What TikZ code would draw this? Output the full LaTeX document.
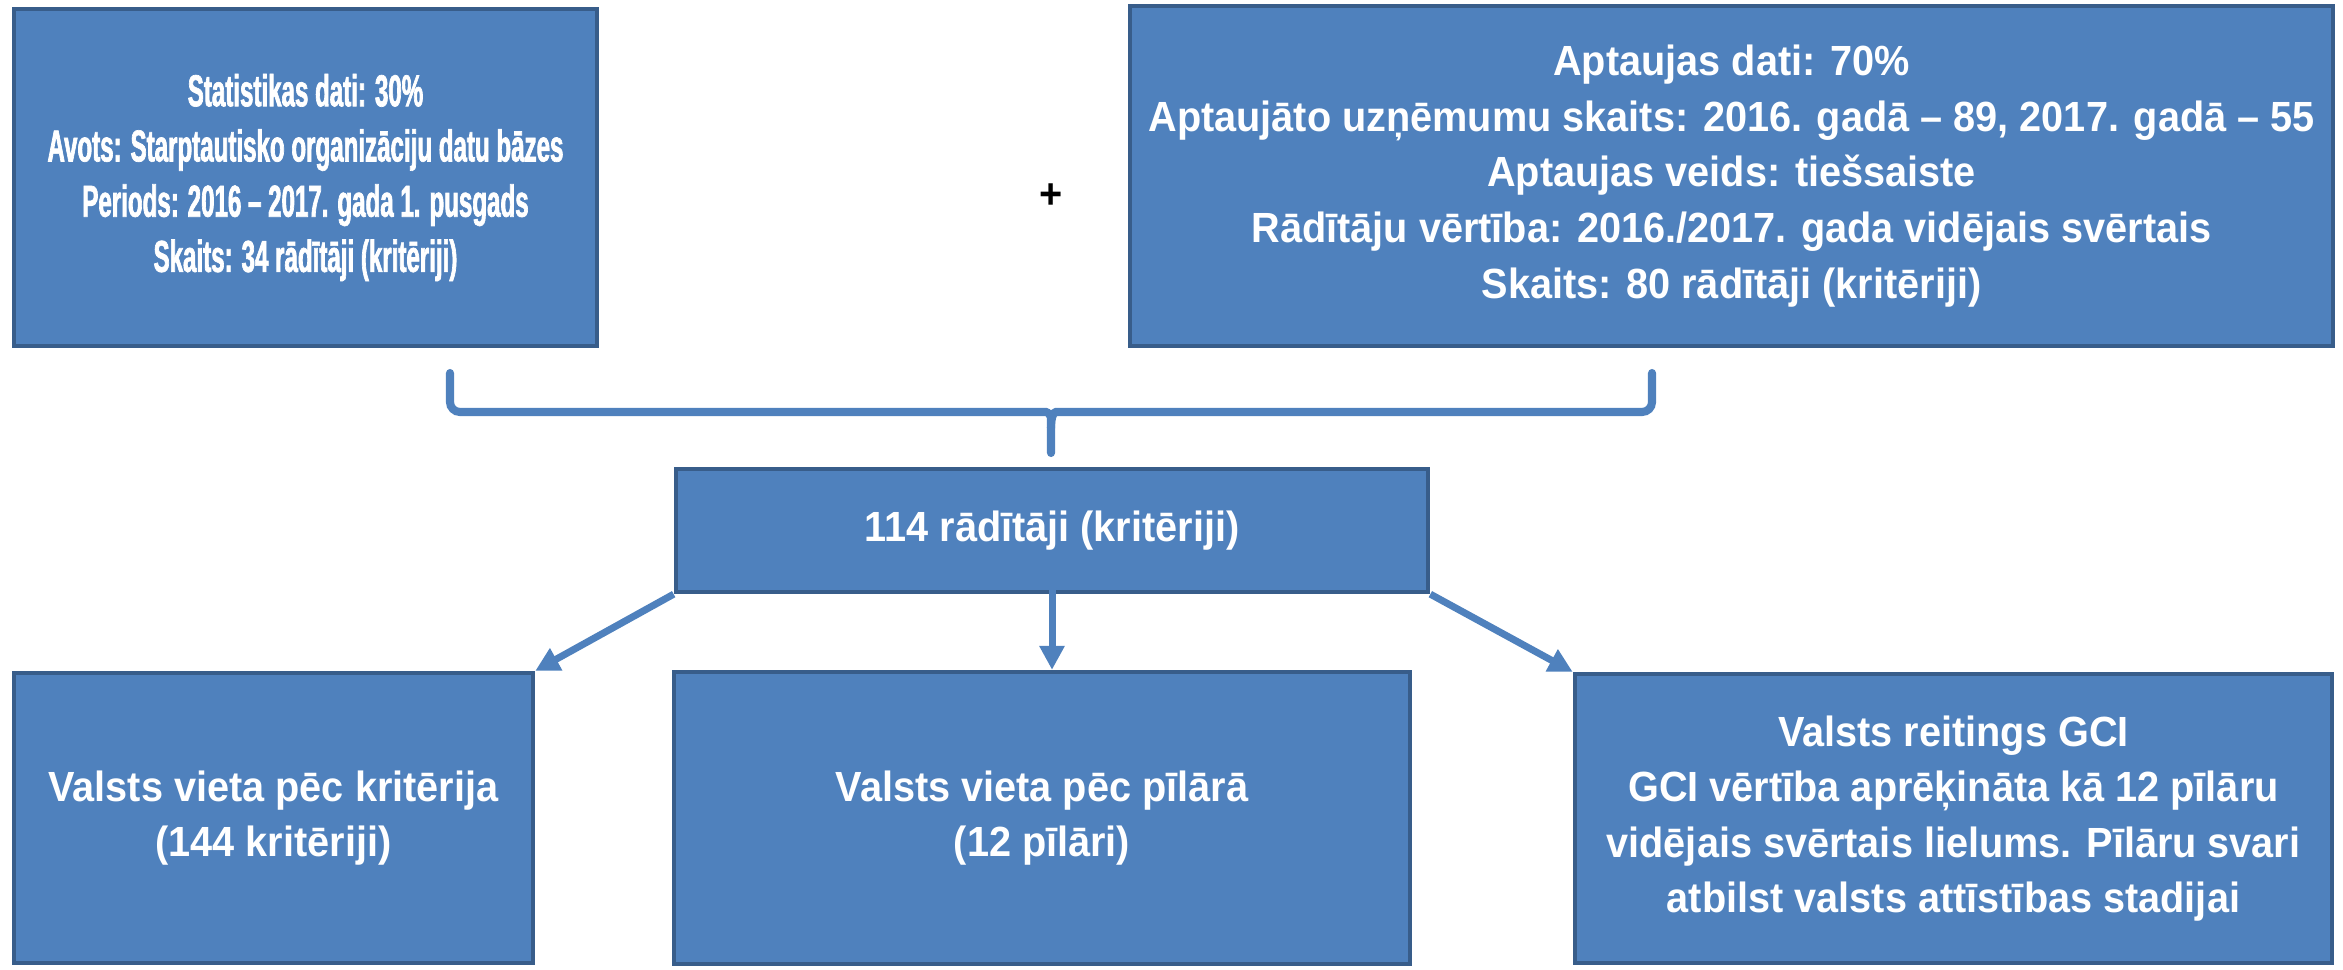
\documentclass[tikz,border=0pt]{standalone}
\usepackage{fontspec}
\setmainfont{Liberation Sans}[FakeStretch=0.94]
\newfontfamily\narrowfont{Liberation Sans Bold}[FakeStretch=0.54, FakeBold=1.5]
\usepackage{tikz}
\usetikzlibrary{arrows.meta}
\usepackage{xcolor}
\definecolor{boxblue}{HTML}{4F81BD}
\definecolor{boxedge}{HTML}{385D8A}
\tikzstyle{panel}=[draw=boxedge, fill=boxblue, line width=1.2pt, text=white, align=center, inner sep=0pt, font=\bfseries\fontsize{12}{15.8}\selectfont]
\tikzstyle{link>}=[draw=boxblue, line width=2pt, -{Triangle[length=6.8pt,width=6.8pt]}]
\tikzstyle{bracket}=[draw=boxblue, line width=2.3pt, line cap=round]

\begin{document}
\begin{tikzpicture}[x=0.01cm,y=-0.01cm]
\useasboundingbox (0,0) rectangle (2343,969);
% source boxes
\node[panel, minimum width=5.83cm, minimum height=3.37cm, font=\narrowfont\fontsize{12.7}{15.7}\selectfont] (stat) at (305.5,177.5) {Statistikas dati: 30\%\\ Avots: Starptautisko organizāciju datu bāzes\\ Periods: 2016 – 2017. gada 1. pusgads\\ Skaits: 34 rādītāji (kritēriji)};
\node[panel, minimum width=12.03cm, minimum height=3.40cm] (survey) at (1731.5,176) {Aptaujas dati: 70\%\\ Aptaujāto uzņēmumu skaits: 2016. gadā – 89, 2017. gadā – 55\\ Aptaujas veids: tiešsaiste\\ Rādītāju vērtība: 2016./2017. gada vidējais svērtais\\ Skaits: 80 rādītāji (kritēriji)};
\node[font=\bfseries\fontsize{12}{12}\selectfont] (plus) at (1051,196) {+};
% bracket
\coordinate (bl) at (450,373);
\coordinate (br) at (1652,373);
\coordinate (tip) at (1051,453);
\draw[bracket, rounded corners=0.1cm] (bl) -- (450,412) -- (1036,412) .. controls (1048,412) and (1051,416) .. (1051,428) -- (tip);
\draw[bracket, rounded corners=0.1cm] (br) -- (1652,412) -- (1066,412) .. controls (1054,412) and (1051,416) .. (1051,428);
% total
\node[panel, minimum width=7.52cm, minimum height=1.23cm] (hub) at (1052,530.5) {114 rādītāji (kritēriji)};
% results
\node[panel, minimum width=5.19cm, minimum height=2.90cm] (rank1) at (273.5,818) {Valsts vieta pēc kritērija\\ (144 kritēriji)};
\node[panel, minimum width=7.36cm, minimum height=2.92cm] (rank2) at (1042,818) {Valsts vieta pēc pīlārā\\ (12 pīlāri)};
\node[panel, minimum width=7.57cm, minimum height=2.89cm] (rank3) at (1953.5,818.5) {Valsts reitings GCI\\ GCI vērtība aprēķināta kā 12 pīlāru\\ vidējais svērtais lielums. Pīlāru svari\\ atbilst valsts attīstības stadijai};
\draw[link>] (hub.south west) -- (rank1.north east);
\draw[link>] ([yshift=-0.23cm]hub.center) -- (hub.center |- rank2.north);
\draw[link>] (hub.south east) -- (rank3.north west);
\end{tikzpicture}
\end{document}
